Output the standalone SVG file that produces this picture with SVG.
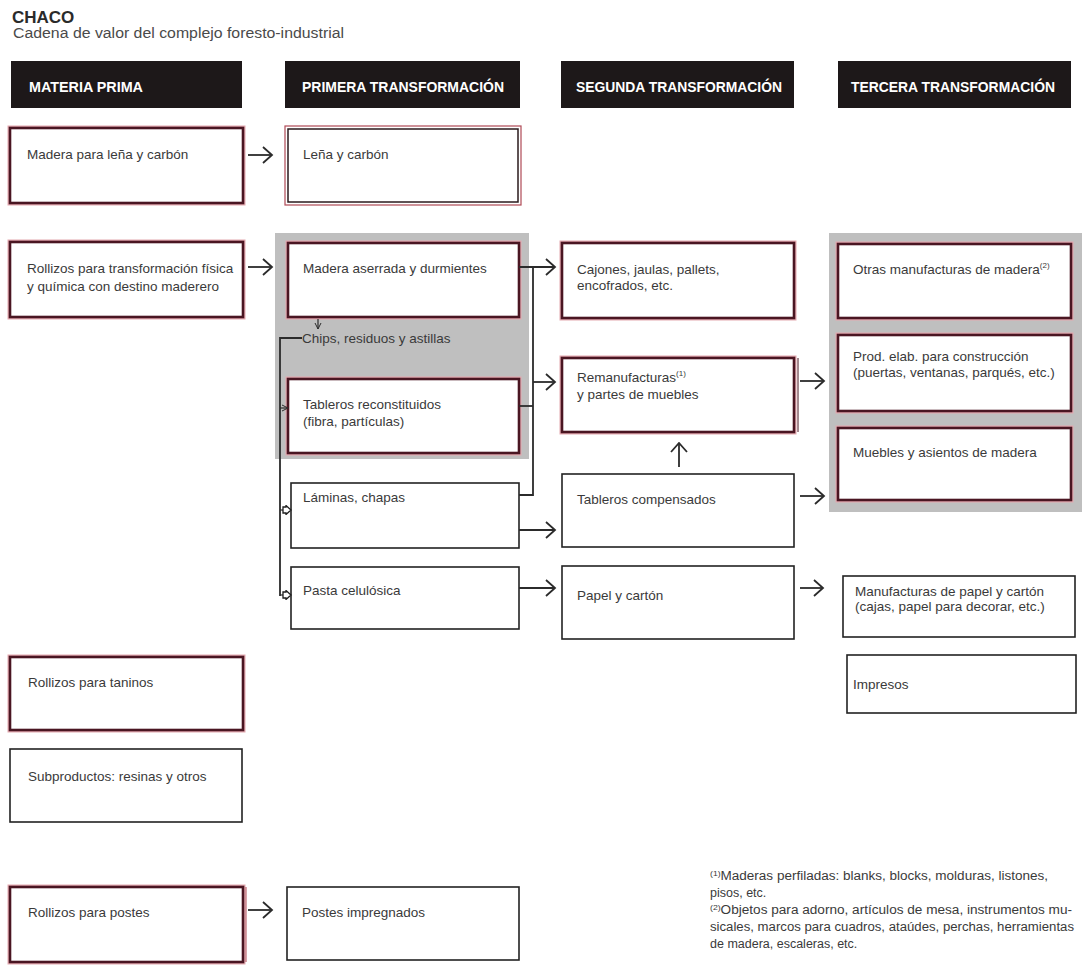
<svg xmlns="http://www.w3.org/2000/svg" width="1086" height="980" viewBox="0 0 1086 980">
<defs>
<marker id="arr" markerUnits="userSpaceOnUse" viewBox="0 0 12 18" markerWidth="12" markerHeight="18" refX="10.5" refY="9" orient="auto">
<path d="M1.5,1 L10.5,9 L1.5,17" fill="none" stroke="#2b2b2b" stroke-width="1.8"/>
</marker>
<marker id="tiny" markerUnits="userSpaceOnUse" viewBox="0 0 8 8" markerWidth="8" markerHeight="8" refX="7" refY="4" orient="auto">
<path d="M1,1 L7,4 L1,7" fill="none" stroke="#2b2b2b" stroke-width="1"/>
</marker>
<marker id="hollow" markerUnits="userSpaceOnUse" viewBox="0 0 10 10" markerWidth="10" markerHeight="10" refX="9" refY="5" orient="auto">
<path d="M1,2 L4,2 L4,0.5 L9,5 L4,9.5 L4,8 L1,8 Z" fill="#fff" stroke="#1e1e1e" stroke-width="1.3"/>
</marker>
</defs>
<style>
.bg{fill:#ffffff}
.hdr{fill:#1d1819}
.ht{font-family:"Liberation Sans",Arial,sans-serif;font-weight:bold;font-size:15px;fill:#ffffff}
.t{font-family:"Liberation Sans",Arial,sans-serif;font-size:13.5px;fill:#3a3a3a}
.fn{font-family:"Liberation Sans",Arial,sans-serif;font-size:12.5px;fill:#3a3a3a}
.sup{font-size:8px}
.gray{fill:#bfbfbf}
.halo{fill:none;stroke:#e4a9b0;stroke-width:5}
.red{fill:#ffffff;stroke:#4a1622;stroke-width:2.6}
.plain{fill:#ffffff;stroke:#222222;stroke-width:1.6}
.dblo{fill:#ffffff;stroke:#b04a56;stroke-width:1.2}
.dbli{fill:none;stroke:#2a1a1c;stroke-width:1.5}
.c{fill:none;stroke:#2b2b2b;stroke-width:1.8}
.ca{fill:none;stroke:#2b2b2b;stroke-width:1.8;marker-end:url(#arr)}
.cs{fill:none;stroke:#2b2b2b;stroke-width:1.2}
</style>
<rect class="bg" x="0" y="0" width="1086" height="980"/>

<g id="title">
<text x="12" y="23" font-family="Liberation Sans, Arial, sans-serif" font-weight="bold" font-size="17" fill="#2a2a2a">CHACO</text>
<text x="13" y="38" font-family="Liberation Sans, Arial, sans-serif" font-size="14" fill="#4a4a4a" textLength="331" lengthAdjust="spacingAndGlyphs">Cadena de valor del complejo foresto-industrial</text>
</g>

<g id="headers">
<rect class="hdr" x="11" y="61" width="231" height="47"/>
<text class="ht" x="29" y="92" textLength="114" lengthAdjust="spacingAndGlyphs">MATERIA PRIMA</text>
<rect class="hdr" x="285" y="61" width="235" height="47"/>
<text class="ht" x="302" y="92" textLength="202" lengthAdjust="spacingAndGlyphs">PRIMERA TRANSFORMACIÓN</text>
<rect class="hdr" x="561" y="61" width="233" height="47"/>
<text class="ht" x="576" y="92" textLength="206" lengthAdjust="spacingAndGlyphs">SEGUNDA TRANSFORMACIÓN</text>
<rect class="hdr" x="838" y="61" width="233" height="47"/>
<text class="ht" x="851" y="92" textLength="204" lengthAdjust="spacingAndGlyphs">TERCERA TRANSFORMACIÓN</text>
</g>

<g id="groups">
<rect class="gray" x="275" y="233" width="254" height="226"/>
<rect class="gray" x="829" y="233" width="253" height="279"/>
</g>

<g id="n-madera-lena">
<rect class="halo" x="10" y="128" width="233" height="75"/>
<rect class="red" x="10" y="128" width="233" height="75"/>
<text class="t" x="27" y="159">Madera para leña y carbón</text>
</g>
<g id="n-lena-carbon">
<rect class="dblo" x="285" y="126" width="236" height="79"/>
<rect class="dbli" x="288" y="129" width="230" height="73"/>
<text class="t" x="303" y="159">Leña y carbón</text>
</g>
<g id="n-rollizos-transf">
<rect class="halo" x="10" y="242" width="233" height="75"/>
<rect class="red" x="10" y="242" width="233" height="75"/>
<text class="t" x="27" y="273">Rollizos para transformación física</text>
<text class="t" x="27" y="291">y química con destino maderero</text>
</g>
<g id="n-aserrada">
<rect class="halo" x="288" y="243" width="231" height="74"/>
<rect class="red" x="288" y="243" width="231" height="74"/>
<text class="t" x="303" y="273">Madera aserrada y durmientes</text>
</g>
<g id="n-chips">
<text class="t" x="302" y="343">Chips, residuos y astillas</text>
</g>
<g id="n-tableros-rec">
<rect class="halo" x="288" y="379" width="231" height="74"/>
<rect class="red" x="288" y="379" width="231" height="74"/>
<text class="t" x="303" y="409">Tableros reconstituidos</text>
<text class="t" x="303" y="426">(fibra, partículas)</text>
</g>
<g id="n-laminas">
<rect class="plain" x="291" y="483" width="228" height="65"/>
<text class="t" x="303" y="502">Láminas, chapas</text>
</g>
<g id="n-pasta">
<rect class="plain" x="291" y="567" width="228" height="62"/>
<text class="t" x="303" y="595">Pasta celulósica</text>
</g>
<g id="n-cajones">
<rect class="halo" x="562" y="243" width="232" height="75"/>
<rect class="red" x="562" y="243" width="232" height="75"/>
<text class="t" x="577" y="274">Cajones, jaulas, pallets,</text>
<text class="t" x="577" y="290">encofrados, etc.</text>
</g>
<g id="n-remanufacturas">
<rect class="halo" x="562" y="358" width="232" height="74"/>
<rect class="red" x="562" y="358" width="232" height="74"/>
<line x1="798" y1="358" x2="798" y2="432" stroke="#4a1622" stroke-width="1"/>
<text class="t" x="577" y="382">Remanufacturas<tspan class="sup" dy="-6">(1)</tspan></text>
<text class="t" x="577" y="399">y partes de muebles</text>
</g>
<g id="n-tableros-comp">
<rect class="plain" x="562" y="474" width="232" height="73"/>
<text class="t" x="577" y="504">Tableros compensados</text>
</g>
<g id="n-papel">
<rect class="plain" x="562" y="566" width="232" height="73"/>
<text class="t" x="577" y="600">Papel y cartón</text>
</g>
<g id="n-otras">
<rect class="halo" x="838" y="244" width="233" height="74"/>
<rect class="red" x="838" y="244" width="233" height="74"/>
<text class="t" x="853" y="274">Otras manufacturas de madera<tspan class="sup" dy="-6">(2)</tspan></text>
</g>
<g id="n-prod-elab">
<rect class="halo" x="838" y="335" width="233" height="76"/>
<rect class="red" x="838" y="335" width="233" height="76"/>
<text class="t" x="853" y="361">Prod. elab. para construcción</text>
<text class="t" x="853" y="377">(puertas, ventanas, parqués, etc.)</text>
</g>
<g id="n-muebles">
<rect class="halo" x="838" y="428" width="233" height="72"/>
<rect class="red" x="838" y="428" width="233" height="72"/>
<text class="t" x="853" y="457">Muebles y asientos de madera</text>
</g>
<g id="n-manuf-papel">
<rect class="plain" x="843" y="576" width="232" height="61"/>
<text class="t" x="855" y="596">Manufacturas de papel y cartón</text>
<text class="t" x="855" y="611">(cajas, papel para decorar, etc.)</text>
</g>
<g id="n-impresos">
<rect class="plain" x="847" y="655" width="229" height="58"/>
<text class="t" x="853" y="689">Impresos</text>
</g>
<g id="n-taninos">
<rect class="halo" x="10" y="657" width="233" height="73"/>
<rect class="red" x="10" y="657" width="233" height="73"/>
<text class="t" x="28" y="687">Rollizos para taninos</text>
</g>
<g id="n-subproductos">
<rect class="plain" x="10" y="749" width="232" height="73"/>
<text class="t" x="28" y="781">Subproductos: resinas y otros</text>
</g>
<g id="n-postes">
<rect class="halo" x="10" y="887" width="233" height="75"/>
<rect class="red" x="10" y="887" width="233" height="75"/>
<line x1="246" y1="887" x2="246" y2="962" stroke="#b04a56" stroke-width="1"/>
<text class="t" x="28" y="917">Rollizos para postes</text>
</g>
<g id="n-postes-imp">
<rect class="plain" x="287" y="887" width="232" height="73"/>
<text class="t" x="302" y="917">Postes impregnados</text>
</g>

<g id="connectors">
<path class="ca" d="M248,155 H272"/>
<path class="ca" d="M248,267 H272"/>
<path class="ca" d="M519,267 H555"/>
<path class="c" d="M533,267 V495 H519"/>
<path class="c" d="M519,406 H533"/>
<path class="ca" d="M533,382 H555"/>
<path class="ca" d="M519,530 H555"/>
<path class="ca" d="M519,588 H555"/>
<path class="ca" d="M679,467 V443"/>
<path class="ca" d="M800,381 H824"/>
<path class="ca" d="M800,496 H824"/>
<path class="ca" d="M800,588 H823"/>
<path class="ca" d="M248,910 H272"/>
<path class="cs" d="M318,319 V329" marker-end="url(#tiny)"/>
<path class="c" d="M302,338 H280 V596"/>
<path class="cs" d="M280,408 H288" marker-end="url(#tiny)"/>
<path class="cs" d="M280,510 H291" marker-end="url(#hollow)"/>
<path class="cs" d="M280,595 H291" marker-end="url(#hollow)"/>
</g>

<g id="footnotes">
<text class="fn" x="710" y="880" textLength="338" lengthAdjust="spacingAndGlyphs"><tspan class="sup" dy="-4">(1)</tspan><tspan dy="4">Maderas perfiladas: blanks, blocks, molduras, listones,</tspan></text>
<text class="fn" x="710" y="897">pisos, etc.</text>
<text class="fn" x="710" y="914" textLength="362" lengthAdjust="spacingAndGlyphs"><tspan class="sup" dy="-4">(2)</tspan><tspan dy="4">Objetos para adorno, artículos de mesa, instrumentos mu-</tspan></text>
<text class="fn" x="710" y="931" textLength="364" lengthAdjust="spacingAndGlyphs">sicales, marcos para cuadros, ataúdes, perchas, herramientas</text>
<text class="fn" x="710" y="948">de madera, escaleras, etc.</text>
</g>
</svg>
